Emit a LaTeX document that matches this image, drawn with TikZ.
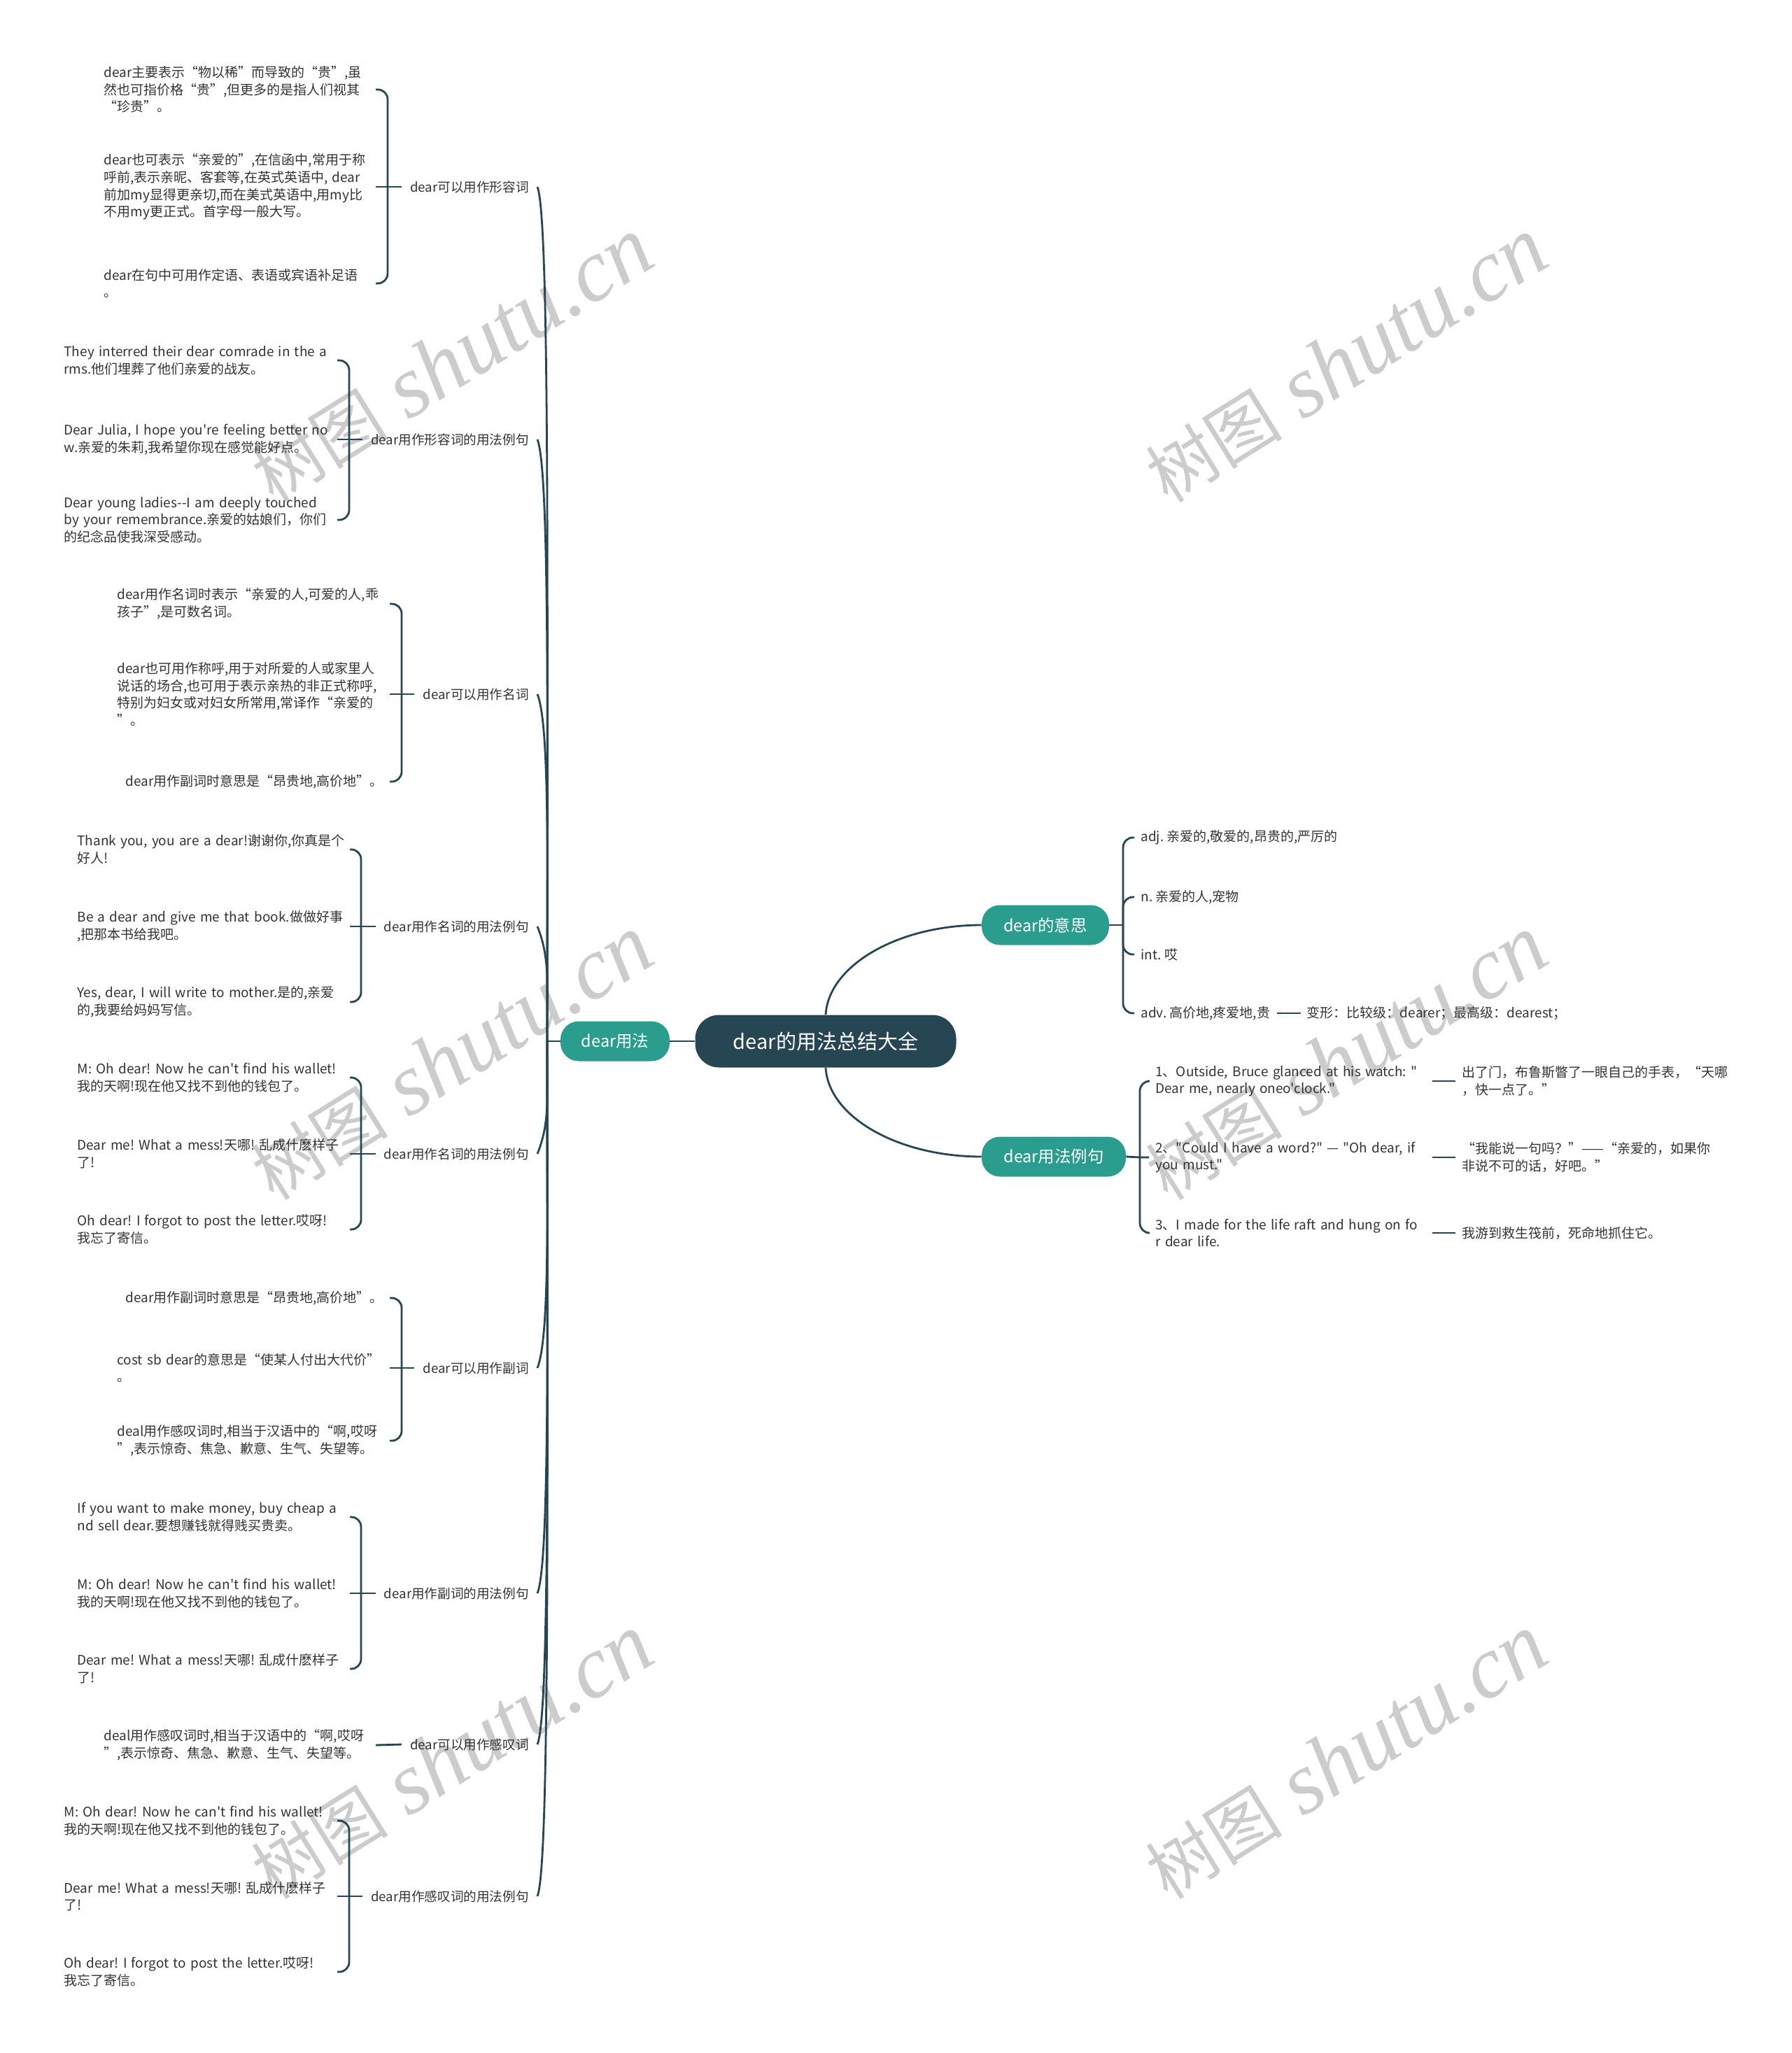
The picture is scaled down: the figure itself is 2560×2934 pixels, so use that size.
\documentclass[tikz,border=0pt]{standalone}
\usepackage{fontspec}
\newfontfamily\cnfont{Noto Sans CJK SC}
\newfontfamily\wmfont{Liberation Serif}
\usetikzlibrary{positioning}
\frenchspacing

\definecolor{darkslate}{HTML}{264653}
\definecolor{mainteal}{HTML}{2A9D8F}
\definecolor{inkgray}{HTML}{333333}

\begin{document}
\begin{tikzpicture}[x=0.5pt, y=-0.5pt,
	root/.style={rectangle, rounded corners=17pt, fill=darkslate, text=white, minimum width=186.5pt, minimum height=37.5pt, font={\cnfont\fontsize{14.5pt}{17pt}\selectfont}},
	topic/.style={rectangle, rounded corners=13pt, fill=mainteal, text=white, minimum height=28.5pt, font={\cnfont\fontsize{11.7pt}{14pt}\selectfont}},
	subtopic/.style={anchor=east, inner xsep=6pt, inner ysep=3pt, text=inkgray, font={\cnfont\fontsize{9.3pt}{12.2pt}\selectfont}},
	leaf/.style={anchor=east, text width=#1, align=left, inner xsep=0pt, inner ysep=2pt, text=inkgray, font={\cnfont\fontsize{9.5pt}{12.3pt}\selectfont}},
	leafr/.style={anchor=west, inner xsep=4.5pt, inner ysep=2pt, align=left, text=inkgray, font={\cnfont\fontsize{9.5pt}{12.3pt}\selectfont}},
	branch/.style={draw=darkslate, line width=1.4pt},
	brace/.style={branch, rounded corners=7pt},
	wmark/.style={text=gray!40, rotate=32, font={\fontsize{49pt}{55pt}\selectfont}}
	]
	
	\useasboundingbox (0,0) rectangle (2560,2934);
	\fill[white] (0,0) rectangle (2560,2934);
	
	% Watermarks
	\foreach \wx/\wy [count=\i] in {646/515, 1924/515, 646/1512, 1924/1512, 646/2511, 1924/2511}
		\node[wmark] (wm\i) at (\wx,\wy) {{\cnfont 树图} {\wmfont\itshape\fontsize{63pt}{68pt}\selectfont shutu.cn}};
	
	% Main nodes
	\node[root] (root) at (1180,1488) {dear的用法总结大全};
	\node[topic, minimum width=78pt] (yongfa) at (879,1488) {dear用法};
	\node[topic, minimum width=91pt] (yisi) at (1494,1322) {dear的意思};
	\node[topic, minimum width=103pt] (liju) at (1506,1653) {dear用法例句};
	
	% Left subtopics
	\node[subtopic] (adj) at (768,267) {dear可以用作形容词};
	\node[subtopic] (adjex) at (768,628) {dear用作形容词的用法例句};
	\node[subtopic] (noun) at (768,992) {dear可以用作名词};
	\node[subtopic] (nounexa) at (768,1324) {dear用作名词的用法例句};
	\node[subtopic] (nounexb) at (768,1649) {dear用作名词的用法例句};
	\node[subtopic] (adv) at (768,1955) {dear可以用作副词};
	\node[subtopic] (advex) at (768,2277) {dear用作副词的用法例句};
	\node[subtopic] (interj) at (768,2493) {dear可以用作感叹词};
	\node[subtopic] (interjex) at (768,2710) {dear用作感叹词的用法例句};
	
	% Leaves: adjective
	\node[leaf=194pt] (adj1) at (537,128) {dear主要表示“物以稀”而导致的“贵”,虽\\然也可指价格“贵”,但更多的是指人们视其\\“珍贵”。};
	\node[leaf=194pt] (adj2) at (537,267) {dear也可表示“亲爱的”,在信函中,常用于称\\呼前,表示亲昵、客套等,在英式英语中, dear\\前加my显得更亲切,而在美式英语中,用my比\\不用my更正式。首字母一般大写。};
	\node[leaf=194pt] (adj3) at (537,405) {dear在句中可用作定语、表语或宾语补足语\\。};
	
	\node[leaf=195pt] (adjex1) at (482,515) {They interred their dear comrade in the a\\rms.他们埋葬了他们亲爱的战友。};
	\node[leaf=195pt] (adjex2) at (482,628) {Dear Julia, I hope you're feeling better no\\w.亲爱的朱莉,我希望你现在感觉能好点。};
	\node[leaf=195pt] (adjex3) at (482,743) {Dear young ladies--I am deeply touched\\by your remembrance.亲爱的姑娘们，你们\\的纪念品使我深受感动。};
	
	% Leaves: noun
	\node[leaf=194.5pt] (noun1) at (557,863) {dear用作名词时表示“亲爱的人,可爱的人,乖\\孩子”,是可数名词。};
	\node[leaf=194.5pt] (noun2) at (557,992) {dear也可用作称呼,用于对所爱的人或家里人\\说话的场合,也可用于表示亲热的非正式称呼,\\特别为妇女或对妇女所常用,常译作“亲爱的\\”。};
	\node[leaf=194.5pt] (noun3) at (557,1117) {\hspace*{6pt}dear用作副词时意思是“昂贵地,高价地”。};
	
	\node[leaf=194.5pt] (nounexa1) at (500,1214) {Thank you, you are a dear!谢谢你,你真是个\\好人!};
	\node[leaf=194.5pt] (nounexa2) at (500,1324) {Be a dear and give me that book.做做好事\\,把那本书给我吧。};
	\node[leaf=194.5pt] (nounexa3) at (500,1432) {Yes, dear, I will write to mother.是的,亲爱\\的,我要给妈妈写信。};
	
	\node[leaf=194.5pt] (nounexb1) at (500,1540) {M: Oh dear! Now he can't find his wallet!\\我的天啊!现在他又找不到他的钱包了。};
	\node[leaf=194.5pt] (nounexb2) at (500,1649) {Dear me! What a mess!天哪! 乱成什麽样子\\了!};
	\node[leaf=194.5pt] (nounexb3) at (500,1757) {Oh dear! I forgot to post the letter.哎呀!\\我忘了寄信。};
	
	% Leaves: adverb
	\node[leaf=194.5pt] (adv1) at (557,1855) {\hspace*{6pt}dear用作副词时意思是“昂贵地,高价地”。};
	\node[leaf=194.5pt] (adv2) at (557,1955) {cost sb dear的意思是“使某人付出大代价”\\。};
	\node[leaf=194.5pt] (adv3) at (557,2059) {deal用作感叹词时,相当于汉语中的“啊,哎呀\\”,表示惊奇、焦急、歉意、生气、失望等。};
	
	\node[leaf=194.5pt] (advex1) at (500,2168) {If you want to make money, buy cheap a\\nd sell dear.要想赚钱就得贱买贵卖。};
	\node[leaf=194.5pt] (advex2) at (500,2277) {M: Oh dear! Now he can't find his wallet!\\我的天啊!现在他又找不到他的钱包了。};
	\node[leaf=194.5pt] (advex3) at (500,2385) {Dear me! What a mess!天哪! 乱成什麽样子\\了!};
	
	% Leaves: interjection
	\node[leaf=194pt] (interj1) at (537,2494) {deal用作感叹词时,相当于汉语中的“啊,哎呀\\”,表示惊奇、焦急、歉意、生气、失望等。};
	
	\node[leaf=195pt] (interjex1) at (482,2602) {M: Oh dear! Now he can't find his wallet!\\我的天啊!现在他又找不到他的钱包了。};
	\node[leaf=195pt] (interjex2) at (482,2710) {Dear me! What a mess!天哪! 乱成什麽样子\\了!};
	\node[leaf=195pt] (interjex3) at (482,2818) {Oh dear! I forgot to post the letter.哎呀!\\我忘了寄信。};
	
	% Right side: meanings
	\node[leafr] (mAdj) at (1621,1197) {adj. 亲爱的,敬爱的,昂贵的,严厉的};
	\node[leafr] (mN) at (1621,1282) {n. 亲爱的人,宠物};
	\node[leafr] (mInt) at (1621,1364) {int. 哎};
	\node[leafr] (mAdv) at (1621,1448) {adv. 高价地,疼爱地,贵};
	\node[leafr, right=17pt of mAdv] (mForm) {变形：比较级：dearer；最高级：dearest；};
	
	% Right side: examples
	\node[leafr, text width=193pt] (ex1) at (1642,1545) {1、Outside, Bruce glanced at his watch: "\\Dear me, nearly oneo'clock."};
	\node[leafr, text width=193pt] (ex2) at (1642,1654) {2、"Could I have a word?" — "Oh dear, if\\you must."};
	\node[leafr, text width=193pt] (ex3) at (1642,1762) {3、I made for the life raft and hung on fo\\r dear life.};
	\node[leafr, text width=190pt, right=16.5pt of ex1] (tr1) {出了门，布鲁斯瞥了一眼自己的手表，“天哪\\，快一点了。”};
	\node[leafr, text width=190pt, right=16.5pt of ex2] (tr2) {“我能说一句吗？”——“亲爱的，如果你\\非说不可的话，好吧。”};
	\node[leafr, text width=190pt, right=16.5pt of ex3] (tr3) {我游到救生筏前，死命地抓住它。};
	
	% Junctions
	\coordinate (trunk) at (782,1488);
	\coordinate (jadj) at (554,267);
	\coordinate (jadjex) at (499,628);
	\coordinate (jnoun) at (574,992);
	\coordinate (jnounexa) at (516,1324);
	\coordinate (jnounexb) at (516,1649);
	\coordinate (jadv) at (574,1955);
	\coordinate (jadvex) at (516,2277);
	\coordinate (jinterjex) at (499,2710);
	\coordinate (jyisi) at (1605,1322);
	\coordinate (jliju) at (1629,1654);
	
	% Root connectors
	\draw[branch] (yongfa.east) -- (root.west);
	\draw[branch] (root.north) .. controls (1184,1380) and (1283,1322) .. (yisi.west);
	\draw[branch] (root.south) .. controls (1184,1596) and (1283,1653) .. (liju.west);
	
	% Trunk to left subtopics
	\draw[branch] (yongfa.west) -- (trunk);
	\foreach \n/\y in {adj/267, adjex/628, noun/992, nounexa/1324}
		\draw[branch] (trunk) .. controls (782,{(1488+\y)/2}) and (786,\y+45) .. (\n.east);
	\foreach \n/\y in {nounexb/1649, adv/1955, advex/2277, interj/2493, interjex/2710}
		\draw[branch] (trunk) .. controls (782,{(1488+\y)/2}) and (786,\y-45) .. (\n.east);
	
	% Brackets on the left
	\draw[branch] (adj.west) -- (jadj) -- (adj2.east);
	\draw[brace] (adj1.east) -| (jadj) |- (adj3.east);
	\draw[branch] (adjex.west) -- (jadjex) -- (adjex2.east);
	\draw[brace] (adjex1.east) -| (jadjex) |- (adjex3.east);
	\draw[branch] (noun.west) -- (jnoun) -- (noun2.east);
	\draw[brace] (noun1.east) -| (jnoun) |- (noun3.east);
	\draw[branch] (nounexa.west) -- (jnounexa) -- (nounexa2.east);
	\draw[brace] (nounexa1.east) -| (jnounexa) |- (nounexa3.east);
	\draw[branch] (nounexb.west) -- (jnounexb) -- (nounexb2.east);
	\draw[brace] (nounexb1.east) -| (jnounexb) |- (nounexb3.east);
	\draw[branch] (adv.west) -- (jadv) -- (adv2.east);
	\draw[brace] (adv1.east) -| (jadv) |- (adv3.east);
	\draw[branch] (advex.west) -- (jadvex) -- (advex2.east);
	\draw[brace] (advex1.east) -| (jadvex) |- (advex3.east);
	\draw[branch] (interj.west) -- (interj1.east);
	\draw[branch] (interjex.west) -- (jinterjex) -- (interjex2.east);
	\draw[brace] (interjex1.east) -| (jinterjex) |- (interjex3.east);
	
	% Brackets on the right
	\draw[branch] (yisi.east) -- (jyisi);
	\draw[brace] (mAdj.west) -| (jyisi) |- (mAdv.west);
	\draw[brace] (mN.west) -| (jyisi) |- (mInt.west);
	\draw[branch] (mAdv) -- (mForm);
	\draw[branch] (liju.east) -- (jliju) -- (ex2.west);
	\draw[brace] (ex1.west) -| (jliju) |- (ex3.west);
	\draw[branch] (ex1) -- (tr1);
	\draw[branch] (ex2) -- (tr2);
	\draw[branch] (ex3) -- (tr3);
	
\end{tikzpicture}
\end{document}
